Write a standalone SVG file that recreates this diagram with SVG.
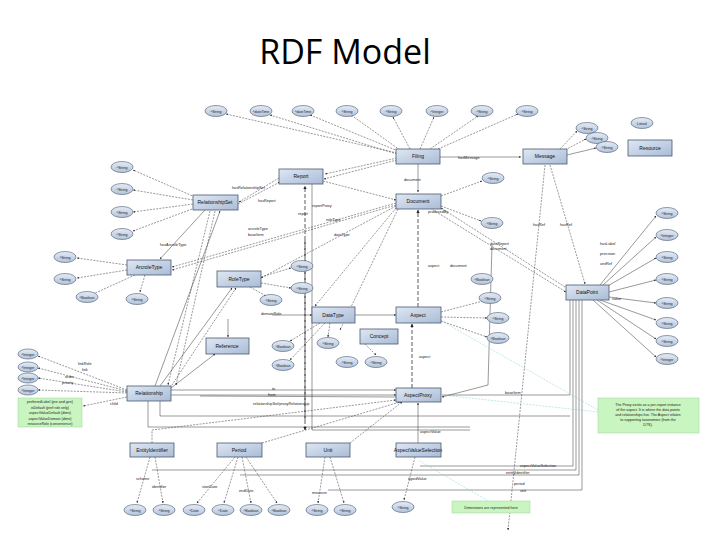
<svg xmlns="http://www.w3.org/2000/svg" width="720" height="540" viewBox="0 0 720 540">
<defs>
<linearGradient id="g" x1="0" y1="0" x2="1" y2="1"><stop offset="0" stop-color="#dfe7f3"/><stop offset="1" stop-color="#a9bcd6"/></linearGradient>
<linearGradient id="e" x1="0" y1="0" x2="0" y2="1"><stop offset="0" stop-color="#e4ebf5"/><stop offset="1" stop-color="#b3c4dc"/></linearGradient>
<marker id="a" viewBox="0 0 6 6" refX="5.5" refY="3" markerWidth="4" markerHeight="4" orient="auto"><path d="M0,0L6,3L0,6z" fill="#222"/></marker>
</defs>
<style>
.b{fill:url(#g);stroke:#4a5a70;stroke-width:0.8}
.el{fill:url(#e);stroke:#4a5a70;stroke-width:0.6}
.t{font-family:"Liberation Sans",Arial,sans-serif;font-size:5px;fill:#111;text-anchor:middle}
.s{font-family:"Liberation Sans",Arial,sans-serif;font-size:3.6px;fill:#222;text-anchor:middle}
.l{font-family:"Liberation Sans",Arial,sans-serif;font-size:3.8px;fill:#222}
.c path,.c line{stroke:#333;stroke-width:0.5;fill:none;marker-end:url(#a)}
.c .d{stroke-dasharray:2,1.2}
.c .D{stroke-dasharray:4,2;stroke-width:0.8}
.c .n{stroke:#7fd0d8;stroke-dasharray:2,1.2;marker-end:none}
.c .p{marker-end:none}
.note{fill:#c9f5c0;stroke:#9ad39a;stroke-width:0.5}
</style>
<text x="345" y="64" font-family="'Open Sans','Liberation Sans',sans-serif" font-size="34" text-anchor="middle" fill="#000">RDF Model</text>

<g class="c" id="connectors">
<!-- Filing -->
<path class="d" d="M397,153L226,114"/><path class="d" d="M397,154L270,115"/><path class="d" d="M398,151L310,115"/><path class="d" d="M400,150L351,115"/>
<path class="d" d="M410,149L393,117"/><path class="d" d="M420,149L434,117"/><path class="d" d="M430,149L478,116"/><path class="d" d="M438,149L518,114"/>
<path d="M440,157L521,157"/><path d="M418,164L418,192"/>
<path class="d" d="M397,158L325,174"/><path class="d" d="M397,160L324,179"/>
<!-- Message -->
<path class="d" d="M560,149L577,131"/><path class="d" d="M565,150L586,139"/><path d="M567,155L596,148"/>
<path class="d" d="M545,165L508,530"/><path class="d" d="M550,165L585,284"/>
<!-- Report -->
<path class="d" d="M279,178L239,202"/><path class="d" d="M238,204L280,182"/>
<path class="p" d="M312,184L312,430L470,430"/>
<path class="D" d="M305,420L305,186"/>
<!-- Document -->
<path class="d" d="M441,196L482,181"/><path class="d" d="M441,206L481,221"/>
<path class="d" d="M323,181L396,200"/>
<path class="d" d="M396,203L172,267"/><path class="d" d="M396,205L172,270"/><path class="d" d="M396,206L261,278"/>
<path class="d" d="M396,208L315,306"/><path class="d" d="M398,209L340,330"/>
<path class="D" d="M418,307L418,210"/>
<path class="d" d="M565,287L441,208"/><path class="d" d="M430,208L566,292"/>
<!-- RelationshipSet -->
<path class="d" d="M195,197L133,170"/><path class="d" d="M193,200L133,190"/><path class="d" d="M193,204L133,212"/><path class="d" d="M195,208L133,231"/>
<path d="M205,210L160,259"/>
<path class="d" d="M210,211L168,385"/><path class="d" d="M215,211L176,385"/><path d="M155,386L220,211"/>
<!-- ArcroleType -->
<path class="d" d="M127,265L77,258"/><path class="d" d="M127,270L77,278"/><path class="d" d="M135,275L93,294"/><path class="d" d="M145,275L140,292"/>
<!-- RoleType -->
<path class="d" d="M261,277L291,268"/><path class="d" d="M261,283L291,288"/><path class="d" d="M250,287L266,296"/>
<path d="M160,386L232,288"/><path class="d" d="M170,388L236,288"/>
<!-- Reference -->
<path d="M228,319L228,337"/><path d="M171,388L215,354"/>
<!-- DataType -->
<path d="M272,315L312,315"/>
<path class="d" d="M320,323L290,341"/><path class="d" d="M330,323L328,337"/><path class="d" d="M325,323L290,360"/>
<path class="D" d="M305,240L305,430"/>
<!-- Concept/Aspect -->
<path d="M355,315L396,315"/><path class="d" d="M365,344L376,355"/>
<path class="d" d="M441,312L487,300"/><path class="d" d="M441,317L487,318"/><path class="d" d="M441,321L487,337"/>
<path class="D" d="M412,388L412,324"/>
<path d="M492,245L488,385L442,397"/>
<!-- DataPoint -->
<path d="M600,285L656,216"/><path d="M603,285L656,237"/><path d="M606,287L656,258"/><path d="M609,292L656,280"/><path d="M609,297L656,303"/>
<path d="M600,300L656,320"/><path d="M597,300L656,339"/><path d="M593,300L656,357"/>
<path class="p" d="M570,300L570,395L442,395"/>
<path class="p" d="M573,300L573,466L420,466"/>
<path class="p" d="M576,300L576,470L152,470"/>
<path class="p" d="M579,300L579,475L240,475"/>
<path class="p" d="M582,300L582,490L328,490"/>
<!-- Relationship -->
<path class="d" d="M127,390L38,356"/><path class="d" d="M127,391L38,368"/><path class="d" d="M127,392L38,378"/><path class="d" d="M127,393L38,390"/>
<path class="d" d="M127,397L83,406"/>
<path d="M171,390L396,390"/><path d="M171,395L396,395"/>
<path class="p" d="M160,401L160,416L570,416"/>
<path class="p" d="M148,401L148,427L470,427"/>
<path d="M200,396L398,397"/>
<!-- bottom boxes to AspectProxy -->
<path class="d" d="M152,443L152,430L396,400"/><path class="d" d="M262,443L400,402"/><path class="d" d="M350,443L402,402"/>
<path d="M418,443L418,403"/>
<path class="d" d="M150,457L137,503"/><path class="d" d="M155,457L163,503"/>
<path class="d" d="M235,457L197,503"/><path class="d" d="M238,457L224,503"/><path class="d" d="M242,457L251,503"/><path class="d" d="M246,457L277,503"/>
<path class="d" d="M325,457L318,503"/><path class="d" d="M330,457L344,503"/>
<path class="d" d="M415,457L404,500"/>
<!-- notes -->
<path class="n" d="M598,410L440,320"/><path class="n" d="M598,412L442,395"/><path class="n" d="M490,502L418,460"/>
</g>

<g id="nodes">
<g id="filing"><rect class="b" x="396" y="149" width="44" height="15"/><text class="t" x="418" y="158">Filing</text></g>
<g id="message"><rect class="b" x="523" y="149" width="44" height="15"/><text class="t" x="545" y="158">Message</text></g>
<g id="resource"><rect class="b" x="628" y="140" width="44" height="16"/><text class="t" x="650" y="150">Resource</text></g>
<g id="report"><rect class="b" x="279" y="169" width="44" height="15"/><text class="t" x="301" y="178">Report</text></g>
<g id="relset"><rect class="b" x="193" y="195" width="45" height="15"/><text class="t" x="215" y="204">RelationshipSet</text></g>
<g id="document"><rect class="b" x="396" y="194" width="45" height="15"/><text class="t" x="418" y="203">Document</text></g>
<g id="arcroletype"><rect class="b" x="127" y="260" width="44" height="15"/><text class="t" x="149" y="269">ArcroleType</text></g>
<g id="roletype"><rect class="b" x="217" y="271" width="44" height="16"/><text class="t" x="239" y="281">RoleType</text></g>
<g id="datatype"><rect class="b" x="312" y="307" width="43" height="16"/><text class="t" x="333" y="317">DataType</text></g>
<g id="aspect"><rect class="b" x="396" y="307" width="45" height="16"/><text class="t" x="418" y="317">Aspect</text></g>
<g id="concept"><rect class="b" x="360" y="329" width="38" height="15"/><text class="t" x="379" y="338">Concept</text></g>
<g id="reference"><rect class="b" x="206" y="338" width="43" height="16"/><text class="t" x="227" y="348">Reference</text></g>
<g id="relationship"><rect class="b" x="127" y="386" width="44" height="15"/><text class="t" x="149" y="395">Relationship</text></g>
<g id="aspectproxy"><rect class="b" x="396" y="388" width="45" height="14"/><text class="t" x="418" y="397">AspectProxy</text></g>
<g id="datapoint"><rect class="b" x="566" y="285" width="43" height="15"/><text class="t" x="587" y="294">DataPoint</text></g>
<g id="entityid"><rect class="b" x="130" y="443" width="44" height="14"/><text class="t" x="152" y="452">EntityIdentifier</text></g>
<g id="period"><rect class="b" x="217" y="443" width="45" height="14"/><text class="t" x="239" y="452">Period</text></g>
<g id="unit"><rect class="b" x="306" y="443" width="44" height="14"/><text class="t" x="328" y="452">Unit</text></g>
<g id="avs"><rect class="b" x="396" y="443" width="45" height="14"/><text class="t" x="418" y="452">AspectValueSelection</text></g>

<g id="literals">
<g><ellipse class="el" cx="216" cy="111" rx="11" ry="5.5"/><text class="s" x="216" y="112.5">^String</text></g>
<g><ellipse class="el" cx="261" cy="111" rx="11" ry="5.5"/><text class="s" x="261" y="112.5">^dateTime</text></g>
<g><ellipse class="el" cx="303" cy="111" rx="11" ry="5.5"/><text class="s" x="303" y="112.5">^dateTime</text></g>
<g><ellipse class="el" cx="347" cy="111" rx="11" ry="5.5"/><text class="s" x="347" y="112.5">^String</text></g>
<g><ellipse class="el" cx="391" cy="111" rx="11" ry="5.5"/><text class="s" x="391" y="112.5">^String</text></g>
<g><ellipse class="el" cx="437" cy="111" rx="11" ry="5.5"/><text class="s" x="437" y="112.5">^Integer</text></g>
<g><ellipse class="el" cx="482" cy="111" rx="11" ry="5.5"/><text class="s" x="482" y="112.5">^String</text></g>
<g><ellipse class="el" cx="527" cy="111" rx="11" ry="5.5"/><text class="s" x="527" y="112.5">^String</text></g>
<g><ellipse class="el" cx="587" cy="128" rx="11" ry="5.5"/><text class="s" x="587" y="129.5">^String</text></g>
<g><ellipse class="el" cx="597" cy="138" rx="11" ry="5.5"/><text class="s" x="597" y="139.5">^String</text></g>
<g><ellipse class="el" cx="607" cy="147" rx="11" ry="5.5"/><text class="s" x="607" y="148.5">^String</text></g>
<g><ellipse class="el" cx="642" cy="123" rx="11" ry="5.5"/><text class="s" x="642" y="124.5">Literal</text></g>
<g><ellipse class="el" cx="493" cy="178" rx="11" ry="5.5"/><text class="s" x="493" y="179.5">^String</text></g>
<g><ellipse class="el" cx="492" cy="223" rx="11" ry="5.5"/><text class="s" x="492" y="224.5">^String</text></g>
<g><ellipse class="el" cx="667" cy="213" rx="11" ry="5.5"/><text class="s" x="667" y="214.5">^String</text></g>
<g><ellipse class="el" cx="667" cy="235" rx="11" ry="5.5"/><text class="s" x="667" y="236.5">^Integer</text></g>
<g><ellipse class="el" cx="667" cy="257" rx="11" ry="5.5"/><text class="s" x="667" y="258.5">^String</text></g>
<g><ellipse class="el" cx="667" cy="279" rx="11" ry="5.5"/><text class="s" x="667" y="280.5">^String</text></g>
<g><ellipse class="el" cx="667" cy="303" rx="11" ry="5.5"/><text class="s" x="667" y="304.5">^String</text></g>
<g><ellipse class="el" cx="667" cy="323" rx="11" ry="5.5"/><text class="s" x="667" y="324.5">^String</text></g>
<g><ellipse class="el" cx="667" cy="341" rx="11" ry="5.5"/><text class="s" x="667" y="342.5">^String</text></g>
<g><ellipse class="el" cx="667" cy="359" rx="11" ry="5.5"/><text class="s" x="667" y="360.5">^Integer</text></g>
<g><ellipse class="el" cx="482" cy="279" rx="11" ry="5.5"/><text class="s" x="482" y="280.5">^Boolean</text></g>
<g><ellipse class="el" cx="490" cy="298" rx="11" ry="5.5"/><text class="s" x="490" y="299.5">^String</text></g>
<g><ellipse class="el" cx="498" cy="318" rx="11" ry="5.5"/><text class="s" x="498" y="319.5">^String</text></g>
<g><ellipse class="el" cx="498" cy="338" rx="11" ry="5.5"/><text class="s" x="498" y="339.5">^Boolean</text></g>
<g><ellipse class="el" cx="376" cy="362" rx="11" ry="5.5"/><text class="s" x="376" y="363.5">^String</text></g>
<g><ellipse class="el" cx="122" cy="167" rx="11" ry="5.5"/><text class="s" x="122" y="168.5">^String</text></g>
<g><ellipse class="el" cx="122" cy="189" rx="11" ry="5.5"/><text class="s" x="122" y="190.5">^String</text></g>
<g><ellipse class="el" cx="122" cy="212" rx="11" ry="5.5"/><text class="s" x="122" y="213.5">^String</text></g>
<g><ellipse class="el" cx="122" cy="234" rx="11" ry="5.5"/><text class="s" x="122" y="235.5">^String</text></g>
<g><ellipse class="el" cx="65" cy="257" rx="11" ry="5.5"/><text class="s" x="65" y="258.5">^String</text></g>
<g><ellipse class="el" cx="65" cy="279" rx="11" ry="5.5"/><text class="s" x="65" y="280.5">^String</text></g>
<g><ellipse class="el" cx="87" cy="297" rx="11" ry="5.5"/><text class="s" x="87" y="298.5">^Boolean</text></g>
<g><ellipse class="el" cx="137" cy="299" rx="11" ry="5.5"/><text class="s" x="137" y="300.5">^String</text></g>
<g><ellipse class="el" cx="302" cy="266" rx="11" ry="5.5"/><text class="s" x="302" y="267.5">^String</text></g>
<g><ellipse class="el" cx="302" cy="288" rx="11" ry="5.5"/><text class="s" x="302" y="289.5">^String</text></g>
<g><ellipse class="el" cx="271" cy="300" rx="11" ry="5.5"/><text class="s" x="271" y="301.5">^String</text></g>
<g><ellipse class="el" cx="283" cy="346" rx="11" ry="5.5"/><text class="s" x="283" y="347.5">^Boolean</text></g>
<g><ellipse class="el" cx="328" cy="343" rx="11" ry="5.5"/><text class="s" x="328" y="344.5">^String</text></g>
<g><ellipse class="el" cx="283" cy="365" rx="11" ry="5.5"/><text class="s" x="283" y="366.5">^Boolean</text></g>
<g><ellipse class="el" cx="347" cy="362" rx="11" ry="5.5"/><text class="s" x="347" y="363.5">^String</text></g>
<g><ellipse class="el" cx="28" cy="354" rx="10" ry="5"/><text class="s" x="28" y="355.5">^Integer</text></g>
<g><ellipse class="el" cx="28" cy="367" rx="10" ry="5"/><text class="s" x="28" y="368.5">^Integer</text></g>
<g><ellipse class="el" cx="28" cy="378" rx="10" ry="5"/><text class="s" x="28" y="379.5">^Integer</text></g>
<g><ellipse class="el" cx="28" cy="390" rx="10" ry="5"/><text class="s" x="28" y="391.5">^Integer</text></g>
<g><ellipse class="el" cx="135" cy="510" rx="11" ry="5.5"/><text class="s" x="135" y="511.5">^String</text></g>
<g><ellipse class="el" cx="164" cy="510" rx="11" ry="5.5"/><text class="s" x="164" y="511.5">^String</text></g>
<g><ellipse class="el" cx="194" cy="510" rx="11" ry="5.5"/><text class="s" x="194" y="511.5">^Date</text></g>
<g><ellipse class="el" cx="223" cy="510" rx="11" ry="5.5"/><text class="s" x="223" y="511.5">^Date</text></g>
<g><ellipse class="el" cx="251" cy="510" rx="11" ry="5.5"/><text class="s" x="251" y="511.5">^Boolean</text></g>
<g><ellipse class="el" cx="279" cy="510" rx="11" ry="5.5"/><text class="s" x="279" y="511.5">^Boolean</text></g>
<g><ellipse class="el" cx="317" cy="510" rx="11" ry="5.5"/><text class="s" x="317" y="511.5">^String</text></g>
<g><ellipse class="el" cx="345" cy="510" rx="11" ry="5.5"/><text class="s" x="345" y="511.5">^String</text></g>
<g><ellipse class="el" cx="403" cy="507" rx="11" ry="5.5"/><text class="s" x="403" y="508.5">^String</text></g>
</g>

<g id="notes">
<rect class="note" x="18" y="398" width="64" height="29"/>
<text class="s" x="50" y="403">preferredLabel (pre and gen)</text>
<text class="s" x="50" y="408.5">isDefault (pref role only)</text>
<text class="s" x="50" y="414">aspectValueDefault (dims)</text>
<text class="s" x="50" y="419.5">aspectValueDomain (dims)</text>
<text class="s" x="50" y="425">resourceRole (convenience)</text>
<rect class="note" x="598" y="398" width="101" height="35"/>
<text class="s" x="648" y="406">The Proxy exists as a per-report instance</text>
<text class="s" x="648" y="411">of the aspect.  It is where the data points</text>
<text class="s" x="648" y="416">and relationships live.  The Aspect relates</text>
<text class="s" x="648" y="421">to supporting taxonomies (from the</text>
<text class="s" x="648" y="426">DTS).</text>
<rect class="note" x="452" y="501" width="78" height="12"/>
<text class="s" x="491" y="508.5">Dimensions are represented here</text>
</g>
</g>

<g id="labels">
<text class="l" x="458" y="159">hasMessage</text>
<text class="l" x="404" y="181">document</text>
<text class="l" x="533" y="226">hasRef</text>
<text class="l" x="560" y="226">hasRef</text>
<text class="l" x="258" y="202">hasReport</text>
<text class="l" x="232" y="189">hasRelationshipSet</text>
<text class="l" x="312" y="207">reportProxy</text>
<text class="l" x="298" y="215">report</text>
<text class="l" x="428" y="213">producedBy</text>
<text class="l" x="428" y="267">aspect</text>
<text class="l" x="450" y="267">document</text>
<text class="l" x="490" y="245">dataReport</text>
<text class="l" x="490" y="250">document</text>
<text class="l" x="160" y="246">hasArcroleType</text>
<text class="l" x="248" y="230">arcroleType</text>
<text class="l" x="248" y="236">baseItem</text>
<text class="l" x="326" y="221">roleType</text>
<text class="l" x="334" y="236">dataType</text>
<text class="l" x="261" y="315">domainRole</text>
<text class="l" x="419" y="358">aspect</text>
<text class="l" x="505" y="394">baseItem</text>
<text class="l" x="272" y="390">to</text>
<text class="l" x="268" y="396">from</text>
<text class="l" x="253" y="405">relationshipSet/proxyRelationship</text>
<text class="l" x="420" y="433">aspectValue</text>
<text class="l" x="520" y="467">aspectValueSelection</text>
<text class="l" x="506" y="474">entityIdentifier</text>
<text class="l" x="514" y="485">period</text>
<text class="l" x="520" y="492">unit</text>
<text class="l" x="408" y="480">typedValue</text>
<text class="l" x="65" y="378">order</text>
<text class="l" x="62" y="384">priority</text>
<text class="l" x="110" y="405">child</text>
<text class="l" x="82" y="371">link</text>
<text class="l" x="78" y="365">linkRole</text>
<text class="l" x="202" y="488">startDate</text>
<text class="l" x="239" y="492">endDate</text>
<text class="l" x="312" y="494">measure</text>
<text class="l" x="136" y="480">scheme</text>
<text class="l" x="152" y="488">identifier</text>
<text class="l" x="600" y="245">hasLabel</text>
<text class="l" x="600" y="255">precision</text>
<text class="l" x="600" y="265">unitRef</text>
<text class="l" x="612" y="300">value</text>
</g>
</svg>
